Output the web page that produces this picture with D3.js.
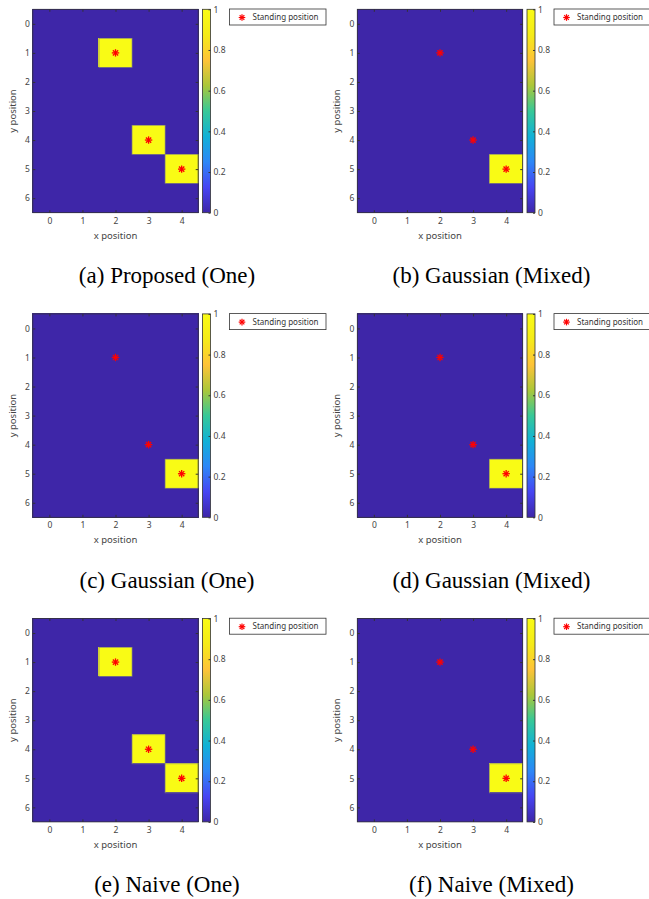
<!DOCTYPE html>
<html>
<head>
<meta charset="utf-8">
<script src="https://cdn.jsdelivr.net/npm/d3@7"></script>
<style>
  html, body { margin: 0; padding: 0; background: #fff; }
  svg { display: block; }
  .ax text { font-family: "Noto Sans", sans-serif; font-size: 8.5px; fill: #444; }
  .ax path, .ax line { stroke: #333; }
</style>
</head>
<body>
<svg id="chart" width="649" height="899"></svg>
<script>
// grid cells
const xTicks = [0, 1, 2, 3, 4];
const yTicks = [0, 1, 2, 3, 4, 5, 6];
const cbTicks = [0, 0.2, 0.4, 0.6, 0.8, 1];

// standing positions
const standX = [2, 3, 4];
const standY = [1, 4, 5];

// estimated values, rows are y = 0..6, columns x = 0..4
const proposedOne = [
    [0, 0, 0, 0, 0],
    [0, 0, 1, 0, 0],
    [0, 0, 0, 0, 0],
    [0, 0, 0, 0, 0],
    [0, 0, 0, 1, 0],
    [0, 0, 0, 0, 1],
    [0, 0, 0, 0, 0]
];
const gaussianMixedB = [
    [0, 0, 0, 0, 0],
    [0, 0, 0, 0, 0],
    [0, 0, 0, 0, 0],
    [0, 0, 0, 0, 0],
    [0, 0, 0, 0, 0],
    [0, 0, 0, 0, 1],
    [0, 0, 0, 0, 0]
];
const gaussianOne = [
    [0, 0, 0, 0, 0],
    [0, 0, 0, 0, 0],
    [0, 0, 0, 0, 0],
    [0, 0, 0, 0, 0],
    [0, 0, 0, 0, 0],
    [0, 0, 0, 0, 1],
    [0, 0, 0, 0, 0]
];
const gaussianMixedD = [
    [0, 0, 0, 0, 0],
    [0, 0, 0, 0, 0],
    [0, 0, 0, 0, 0],
    [0, 0, 0, 0, 0],
    [0, 0, 0, 0, 0],
    [0, 0, 0, 0, 1],
    [0, 0, 0, 0, 0]
];
const naiveOne = [
    [0, 0, 0, 0, 0],
    [0, 0, 1, 0, 0],
    [0, 0, 0, 0, 0],
    [0, 0, 0, 0, 0],
    [0, 0, 0, 1, 0],
    [0, 0, 0, 0, 1],
    [0, 0, 0, 0, 0]
];
const naiveMixed = [
    [0, 0, 0, 0, 0],
    [0, 0, 0, 0, 0],
    [0, 0, 0, 0, 0],
    [0, 0, 0, 0, 0],
    [0, 0, 0, 0, 0],
    [0, 0, 0, 0, 1],
    [0, 0, 0, 0, 0]
];

const grids = [proposedOne, gaussianMixedB, gaussianOne, gaussianMixedD, naiveOne, naiveMixed];
const captions = [
    "(a) Proposed (One)", "(b) Gaussian (Mixed)",
    "(c) Gaussian (One)", "(d) Gaussian (Mixed)",
    "(e) Naive (One)", "(f) Naive (Mixed)"
];

// parula colormap stops
const parula = ["#3e26a8", "#4745f3", "#2d87f7", "#11b1d6", "#37c897", "#abc739", "#fec338", "#f5eb18", "#f9fb15"];
const color = d3.scaleLinear()
    .domain(parula.map((c, i) => i / (parula.length - 1)))
    .range(parula);

const svg = d3.select("#chart");

const COL_DX = 324.5;
const ROW_DY = 304.6;

const hmLeft = 32.8, hmRight = 198.2, hmTop = 9.3, hmBottom = 212.7;
const cbLeft = 202.5, cbRight = 210.5;

const grad = svg.append("defs").append("linearGradient")
    .attr("id", "parulaGrad")
    .attr("x1", 0).attr("y1", 1).attr("x2", 0).attr("y2", 0);
grad.selectAll("stop")
    .data(parula)
    .join("stop")
    .attr("offset", (d, i) => i / (parula.length - 1))
    .attr("stop-color", d => d);

const x = d3.scaleLinear().domain([-0.5, 4.5]).range([hmLeft, hmRight]);
const y = d3.scaleLinear().domain([-0.5, 6.5]).range([hmTop, hmBottom]);
const cb = d3.scaleLinear().domain([0, 1]).range([hmBottom, hmTop]);

grids.forEach((grid, i) => {
    const col = i % 2;
    const row = Math.floor(i / 2);
    const g = svg.append("g")
        .attr("transform", `translate(${col * COL_DX},${row * ROW_DY})`);
    drawPanel(g, grid, captions[i]);
});

function drawPanel(g, grid, caption) {
    const cells = [];
    grid.forEach((r, yi) => r.forEach((v, xi) => cells.push({ x: xi, y: yi, v })));

    // crisp edges so no seams show between cells
    g.selectAll("rect.cell")
        .data(cells)
        .join("rect")
        .attr("class", "cell")
        .attr("x", d => x(d.x - 0.5) - 0.5)
        .attr("y", d => y(d.y - 0.5) - 0.5)
        .attr("width", x(1) - x(0) + 1)
        .attr("height", y(1) - y(0) + 1)
        .attr("shape-rendering", "crispEdges")
        .attr("fill", d => color(d.v));

    // faint edge round the bright cells
    g.selectAll("rect.hi")
        .data(cells.filter(d => d.v > 0.5))
        .join("rect")
        .attr("class", "hi")
        .attr("x", d => x(d.x - 0.5))
        .attr("y", d => y(d.y - 0.5))
        .attr("width", x(1) - x(0))
        .attr("height", y(1) - y(0))
        .attr("fill", "none")
        .attr("stroke", "#8a8a70")
        .attr("stroke-width", 0.7);

    // axes, ticks pointing inward
    g.append("g").attr("class", "ax")
        .attr("transform", `translate(0,${hmBottom})`)
        .call(d3.axisBottom(x).tickValues(xTicks).tickFormat(d3.format("d"))
            .tickSize(-2.5).tickPadding(5).tickSizeOuter(0))
        .call(a => a.select(".domain").remove());
    g.append("g").attr("class", "ax")
        .attr("transform", `translate(0,${hmTop})`)
        .call(d3.axisTop(x).tickValues(xTicks).tickSize(-2.5).tickFormat("").tickSizeOuter(0))
        .call(a => a.select(".domain").remove());
    g.append("g").attr("class", "ax")
        .attr("transform", `translate(${hmLeft},0)`)
        .call(d3.axisLeft(y).tickValues(yTicks).tickFormat(d3.format("d"))
            .tickSize(-2.5).tickPadding(3).tickSizeOuter(0))
        .call(a => a.select(".domain").remove());
    g.append("g").attr("class", "ax")
        .attr("transform", `translate(${hmRight},0)`)
        .call(d3.axisRight(y).tickValues(yTicks).tickSize(-2.5).tickFormat("").tickSizeOuter(0))
        .call(a => a.select(".domain").remove());

    g.append("rect")
        .attr("x", hmLeft).attr("y", hmTop)
        .attr("width", hmRight - hmLeft).attr("height", hmBottom - hmTop)
        .attr("fill", "none")
        .attr("stroke", "#333")
        .attr("stroke-width", 0.8);

    g.append("text")
        .attr("x", (hmLeft + hmRight) / 2)
        .attr("y", 238.5)
        .attr("text-anchor", "middle")
        .attr("font-family", "Noto Sans, sans-serif")
        .attr("font-size", 9.5)
        .attr("fill", "#444")
        .text("x position");

    g.append("text")
        .attr("transform", `translate(15.5,${(hmTop + hmBottom) / 2}) rotate(-90)`)
        .attr("text-anchor", "middle")
        .attr("font-family", "Noto Sans, sans-serif")
        .attr("font-size", 9.5)
        .attr("fill", "#444")
        .text("y position");

    // standing position markers
    const stars = g.selectAll("g.star")
        .data(standX.map((sx, k) => ({ x: sx, y: standY[k] })))
        .join("g")
        .attr("class", "star")
        .attr("transform", d => `translate(${x(d.x)},${y(d.y)})`);
    drawStar(stars, 3.7, 1.3);

    // colorbar
    g.append("rect")
        .attr("x", cbLeft).attr("y", hmTop)
        .attr("width", cbRight - cbLeft).attr("height", hmBottom - hmTop)
        .attr("fill", "url(#parulaGrad)")
        .attr("stroke", "#333")
        .attr("stroke-width", 0.8);
    g.append("g").attr("class", "ax")
        .attr("transform", `translate(${cbRight},0)`)
        .call(d3.axisRight(cb).tickValues(cbTicks).tickSize(-2).tickPadding(3)
            .tickFormat(d => d === 0 || d === 1 ? d3.format("d")(d) : d3.format(".1f")(d)).tickSizeOuter(0))
        .call(a => a.select(".domain").remove());

    // legend
    const lg = g.append("g").attr("transform", "translate(229.5,9)");
    lg.append("rect")
        .attr("width", 96.5).attr("height", 16)
        .attr("fill", "#fff")
        .attr("stroke", "#333")
        .attr("stroke-width", 0.8);
    const ls = lg.append("g").attr("transform", "translate(12.5,8.5)");
    drawStar(ls, 3.3, 1.2);
    lg.append("text")
        .attr("x", 23).attr("y", 11)
        .attr("font-family", "Noto Sans, sans-serif")
        .attr("font-size", 8)
        .attr("fill", "#333")
        .text("Standing position");

    g.append("text")
        .attr("x", 167)
        .attr("y", 283)
        .attr("text-anchor", "middle")
        .attr("font-family", "'Liberation Serif', 'Times New Roman', serif")
        .attr("font-size", 23)
        .attr("fill", "#000")
        .text(caption);
}

function drawStar(sel, r, w) {
    const angles = [0, 45, 90, 135];
    angles.forEach(a => {
        const rad = a * Math.PI / 180;
        sel.append("line")
            .attr("x1", -r * Math.cos(rad)).attr("y1", -r * Math.sin(rad))
            .attr("x2", r * Math.cos(rad)).attr("y2", r * Math.sin(rad))
            .attr("stroke", "#ff0000")
            .attr("stroke-width", w);
    });
}
</script>
</body>
</html>
